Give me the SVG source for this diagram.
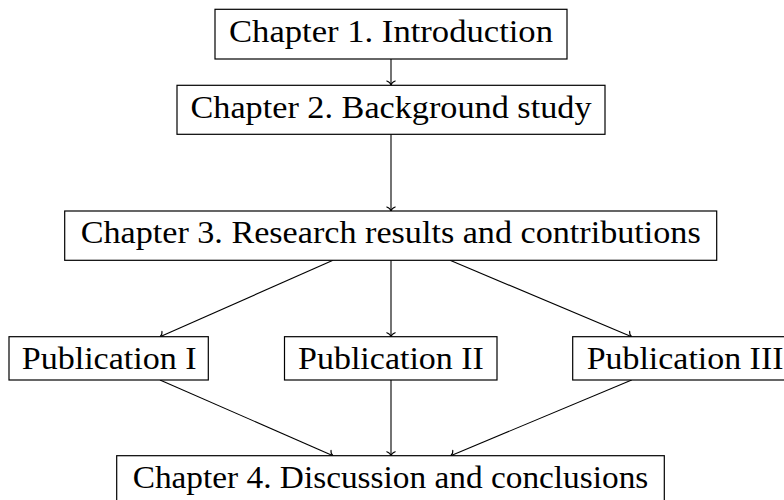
<svg xmlns="http://www.w3.org/2000/svg" width="784" height="500" viewBox="0 0 784 500">
  <style>
    .box { fill: #ffffff; stroke: #000000; stroke-width: 1.2; }
    .lbl { font-family: "Liberation Serif", "DejaVu Serif", serif; font-size: 31px; fill: #000000; }
    .edge { fill: none; stroke: #000000; stroke-width: 1.1; marker-end: url(#tip); }
  </style>
  <defs>
    <!-- curved "to"-style arrow tip -->
    <marker id="tip" markerUnits="userSpaceOnUse" markerWidth="12" markerHeight="12" viewBox="-6 -6 12 12" refX="0" refY="0" orient="auto" overflow="visible">
      <path d="M -4 -4.2 C -3.2 -1.6, -1.2 -0.3, 0 0 C -1.2 0.3, -3.2 1.6, -4 4.2" fill="none" stroke="#000000" stroke-width="1.1" stroke-linecap="round"/>
    </marker>
  </defs>

  <g id="connectors">
    <path class="edge" d="M 391 59 L 391 85"/>
    <path class="edge" d="M 391 134.3 L 391 211"/>
    <path class="edge" d="M 333 260.3 L 160 336.7"/>
    <path class="edge" d="M 391 260.3 L 391 336.7"/>
    <path class="edge" d="M 450 260.3 L 631.7 336.7"/>
    <path class="edge" d="M 160 380 L 333 455.7"/>
    <path class="edge" d="M 391 380 L 391 455.7"/>
    <path class="edge" d="M 631.7 380 L 450.7 455.7"/>
  </g>

  <g id="ch1">
    <rect class="box" x="215" y="9.3" width="352" height="49.7"/>
    <text class="lbl" x="229" y="41.5" textLength="324" lengthAdjust="spacingAndGlyphs">Chapter 1. Introduction</text>
  </g>
  <g id="ch2">
    <rect class="box" x="177" y="85.3" width="428" height="49"/>
    <text class="lbl" x="190.5" y="117.5" textLength="401" lengthAdjust="spacingAndGlyphs">Chapter 2. Background study</text>
  </g>
  <g id="ch3">
    <rect class="box" x="64.7" y="211" width="652" height="49.3"/>
    <text class="lbl" x="80.7" y="243.2" textLength="620" lengthAdjust="spacingAndGlyphs">Chapter 3. Research results and contributions</text>
  </g>
  <g id="pub1">
    <rect class="box" x="9" y="336.7" width="199.3" height="43.3"/>
    <text class="lbl" x="21.7" y="368.9" textLength="175" lengthAdjust="spacingAndGlyphs">Publication I</text>
  </g>
  <g id="pub2">
    <rect class="box" x="284.5" y="336.7" width="212.5" height="43.3"/>
    <text class="lbl" x="298.1" y="368.9" textLength="185.8" lengthAdjust="spacingAndGlyphs">Publication II</text>
  </g>
  <g id="pub3">
    <rect class="box" x="572.7" y="336.7" width="225" height="43.3"/>
    <text class="lbl" x="586.7" y="368.9" textLength="196.8" lengthAdjust="spacingAndGlyphs">Publication III</text>
  </g>
  <g id="ch4">
    <rect class="box" x="116.7" y="455.7" width="547.6" height="49"/>
    <text class="lbl" x="132.7" y="487.9" textLength="515.6" lengthAdjust="spacingAndGlyphs">Chapter 4. Discussion and conclusions</text>
  </g>
</svg>
